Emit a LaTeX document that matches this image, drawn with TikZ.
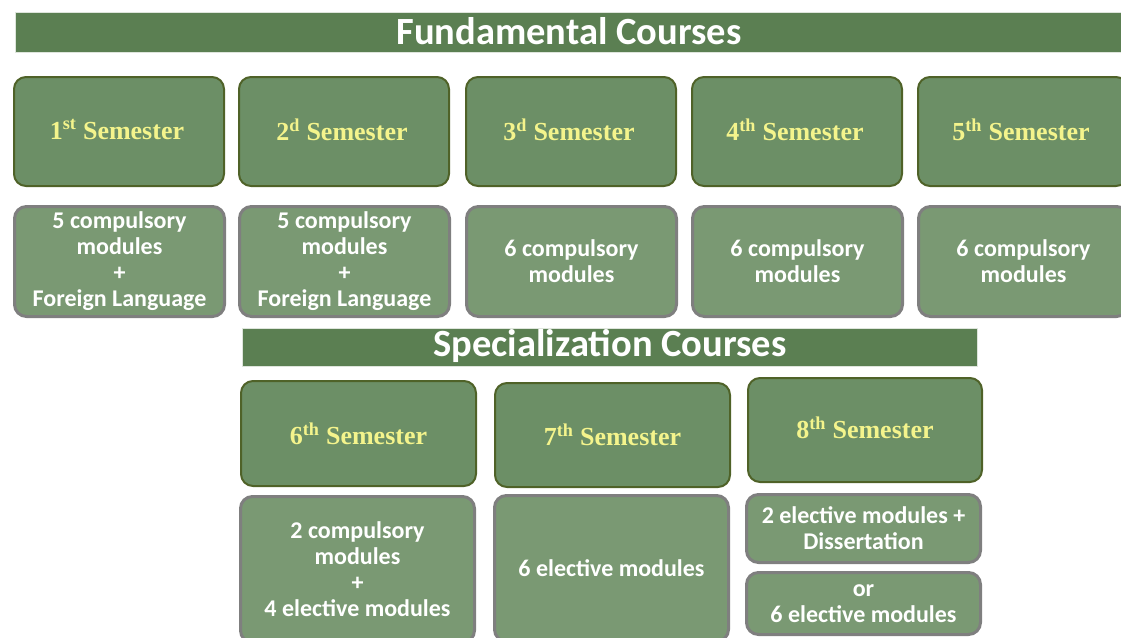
\documentclass[tikz,border=0pt]{standalone}
\usepackage{fontspec}
\newfontfamily\calfont{Carlito}
\newfontfamily\semfont{Liberation Serif}
\definecolor{barfill}{HTML}{5B7F52}
\definecolor{semfill}{HTML}{6C8F66}
\definecolor{semdraw}{HTML}{4F6228}
\definecolor{semtext}{HTML}{F4F48C}
\definecolor{modfill}{HTML}{7A9973}
\definecolor{moddraw}{HTML}{7F7F7F}
\begin{document}
\begin{tikzpicture}[x=1pt,y=-1pt,
  bar/.style={fill=barfill, draw=white!80!barfill, line width=0.8pt, inner sep=0pt},
  bartext/.style={text=white, font=\calfont\bfseries\fontsize{38.5}{42}\selectfont},
  sem/.style={fill=semfill, draw=semdraw, line width=2pt, rounded corners=12pt, inner sep=0pt},
  semtext/.style={text=semtext, font=\semfont\bfseries\fontsize{26}{30}\selectfont},
  mod/.style={fill=modfill, draw=moddraw, line width=3pt, rounded corners=12pt, inner sep=0pt,
    text=white, align=center, font=\calfont\bfseries\fontsize{24}{26}\selectfont}]
\useasboundingbox (0,0) rectangle (1121,637);
\clip (0,0) rectangle (1121,637);
% fundamental
\node[bar, minimum width=1130pt, minimum height=40pt, anchor=north west] (fb) at (15,12) {};
\node[bartext] (ft) at (569,31) {Fundamental Courses};
\foreach \i/\x/\lab in {1/13/{1\textsuperscript{st} Semester},2/238/{2\textsuperscript{d} Semester},3/465/{3\textsuperscript{d} Semester},4/691/{4\textsuperscript{th} Semester},5/917/{5\textsuperscript{th} Semester}}{
  \node[sem, minimum width=210pt, minimum height=109pt, anchor=north west] (s\i) at (\x,76) {};
  \node[semtext] (st\i) at ([xshift=-2pt,yshift=2pt]s\i.center) {\lab};
}
\node[mod, minimum width=210pt, minimum height=110pt, anchor=north west] (m1) at (13,205) {5 compulsory\\modules\\+\\Foreign Language};
\node[mod, minimum width=210pt, minimum height=110pt, anchor=north west] (m2) at (238,205) {5 compulsory\\modules\\+\\Foreign Language};
\node[mod, minimum width=210pt, minimum height=110pt, anchor=north west] (m3) at (465,205) {6 compulsory\\modules};
\node[mod, minimum width=210pt, minimum height=110pt, anchor=north west] (m4) at (691,205) {6 compulsory\\modules};
\node[mod, minimum width=210pt, minimum height=110pt, anchor=north west] (m5) at (917,205) {6 compulsory\\modules};
% specialization
\node[bar, minimum width=735pt, minimum height=38pt, anchor=north west] (sb) at (242,328) {};
\node[bartext] (sbt) at (610,346) {Specialization Courses};
\node[sem, minimum width=235pt, minimum height=105pt, anchor=north west] (s6) at (240,380) {};
\node[semtext] (st6) at (s6.center) {6\textsuperscript{th} Semester};
\node[sem, minimum width=235pt, minimum height=104pt, anchor=north west] (s7) at (494,382) {};
\node[semtext] (st7) at (s7.center) {7\textsuperscript{th} Semester};
\node[sem, minimum width=234pt, minimum height=104pt, anchor=north west] (s8) at (747,377) {};
\node[semtext] (st8) at ([yshift=2pt]s8.center) {8\textsuperscript{th} Semester};
\node[mod, minimum width=234pt, minimum height=146pt, anchor=north west] (m6) at (239,495) {2 compulsory\\modules\\+\\4 elective modules};
\node[mod, minimum width=234pt, minimum height=146pt, anchor=north west] (m7) at (493,494) {6 elective modules};
\node[mod, minimum width=234pt, minimum height=68pt, anchor=north west] (m8a) at (745,493) {2 elective modules +\\Dissertation};
\node[mod, minimum width=234pt, minimum height=62pt, anchor=north west] (m8b) at (745,571) {or\\6 elective modules};
\end{tikzpicture}
\end{document}
